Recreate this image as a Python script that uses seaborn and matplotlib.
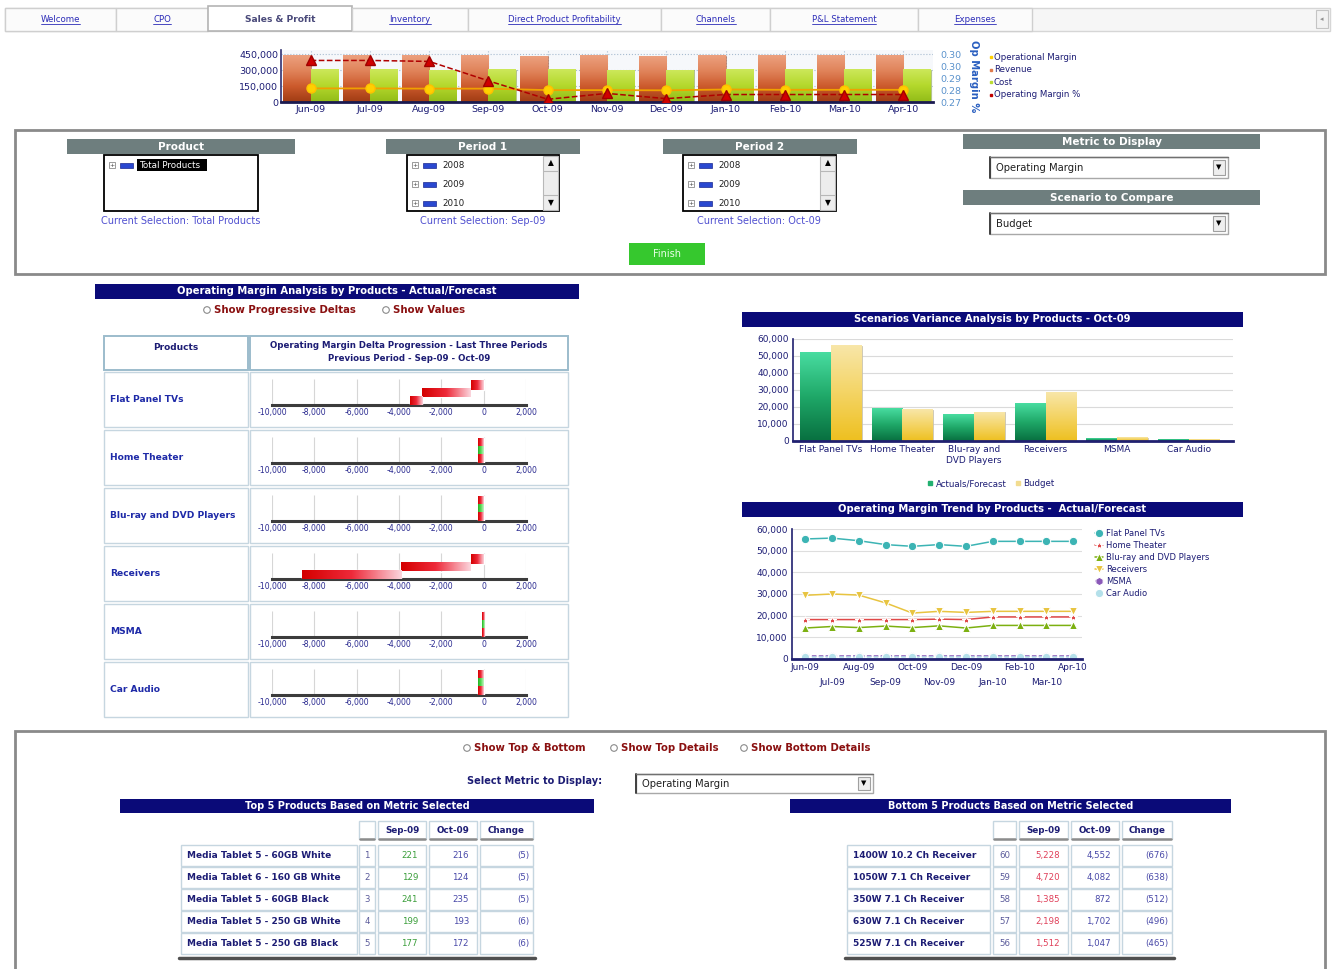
import numpy as np
import pandas as pd
import matplotlib
matplotlib.use("Agg")
import matplotlib.pyplot as plt
import seaborn as sns
from matplotlib.patches import Rectangle, Circle
from matplotlib.colors import LinearSegmentedColormap
from matplotlib.lines import Line2D

W, H = 1335, 969

# ---------------- data ----------------
tab_names = ["Welcome", "CPO", "Sales & Profit", "Inventory", "Direct Product Profitability",
             "Channels", "P&L Statement", "Expenses"]

months = ["Jun-09", "Jul-09", "Aug-09", "Sep-09", "Oct-09", "Nov-09",
          "Dec-09", "Jan-10", "Feb-10", "Mar-10", "Apr-10"]
revenue = [435000, 435000, 437000, 435000, 433000, 435000, 430000, 435000, 437000, 437000, 437000]
cost = [305000, 305000, 300000, 305000, 305000, 300000, 300000, 310000, 305000, 310000, 305000]
op_margin = [128000, 128000, 126000, 126000, 112000, 112000, 110000, 118000, 115000, 115000, 115000]
op_margin_pct = [0.2961, 0.2961, 0.2955, 0.2833, 0.2717, 0.2754, 0.2721, 0.2747, 0.2747, 0.2747, 0.2747]
pct_ticks = [0.27, 0.2775, 0.285, 0.2925, 0.30]
pct_tick_labels = ["0.27", "0.28", "0.29", "0.30", "0.30"]
top_legend = ["Operational Margin", "Revenue", "Cost", "Operating Margin %"]

products = ["Flat Panel TVs", "Home Theater", "Blu-ray and DVD Players", "Receivers", "MSMA", "Car Audio"]
product_ticks = ["Flat Panel TVs", "Home Theater", "Blu-ray and\nDVD Players", "Receivers", "MSMA", "Car Audio"]

# progressive deltas (previous period, Sep-09, Oct-09)
delta_flat_panel = [-600, -2300, -600]
delta_home_theater = [-250, 250, -250]
delta_bluray = [-250, 250, -250]
delta_receivers = [-600, -3300, -4700]
delta_msma = [-100, 100, -100]
delta_car_audio = [-250, 250, -250]
delta_ticks = [-10000, -8000, -6000, -4000, -2000, 0, 2000]

scenario_actual = [52000, 18900, 15400, 22000, 1400, 900]
scenario_budget = [56000, 18400, 16900, 28700, 2000, 700]

trend_flat_panel = [55400, 55800, 54600, 52800, 52000, 52800, 52000, 54300, 54300, 54300, 54300]
trend_home_theater = [18200, 18200, 18200, 18200, 18200, 18400, 18200, 19400, 19400, 19400, 19400]
trend_bluray = [14300, 15000, 14500, 15200, 14500, 15300, 14300, 15500, 15500, 15500, 15500]
trend_receivers = [29400, 30000, 29500, 25900, 21200, 22000, 21500, 22000, 22000, 22000, 22000]
trend_msma = [1200, 1200, 1200, 1200, 1200, 1200, 1200, 1200, 1200, 1200, 1200]
trend_car_audio = [900, 900, 900, 900, 900, 900, 900, 900, 900, 900, 900]

top5_names = ["Media Tablet 5 - 60GB White", "Media Tablet 6 - 160 GB White", "Media Tablet 5 - 60GB Black",
              "Media Tablet 5 - 250 GB White", "Media Tablet 5 - 250 GB Black"]
top5_rank = [1, 2, 3, 4, 5]
top5_sep = [221, 129, 241, 199, 177]
top5_oct = [216, 124, 235, 193, 172]
top5_change = [-5, -5, -5, -6, -6]

bottom5_names = ["1400W 10.2 Ch Receiver", "1050W 7.1 Ch Receiver", "350W 7.1 Ch Receiver",
                 "630W 7.1 Ch Receiver", "525W 7.1 Ch Receiver"]
bottom5_rank = [60, 59, 58, 57, 56]
bottom5_sep = [5228, 4720, 1385, 2198, 1512]
bottom5_oct = [4552, 4082, 872, 1702, 1047]
bottom5_change = [-676, -638, -512, -496, -465]

# ---------------- style ----------------
sns.set_theme(style="white")
plt.rcParams["font.family"] = ["DejaVu Sans"]

NAVY = "#0a0a78"
TXT = "#1c1c74"
GRAY_HDR = "#6e7e7e"
DARKRED = "#8a1010"
LINK = "#2c2cb8"

fig = plt.figure(figsize=(W / 100, H / 100), dpi=100)
bg = fig.add_axes([0, 0, 1, 1])
bg.set_xlim(0, W)
bg.set_ylim(H, 0)
bg.axis("off")


def axes_at(x, y, w, h):
    return fig.add_axes([x / W, 1 - (y + h) / H, w / W, h / H])


def box(x, y, w, h, fc="white", ec="none", lw=1, z=1):
    bg.add_patch(Rectangle((x, y), w, h, facecolor=fc, edgecolor=ec, linewidth=lw, zorder=z))


def label(x, y, s, size=7, color=TXT, ha="left", va="center", weight="normal", **kw):
    return bg.text(x, y, s, fontsize=size, color=color, ha=ha, va=va, fontweight=weight, zorder=6, **kw)


def shade(ax, patch, colors, vertical=True):
    x0, y0 = patch.get_x(), patch.get_y()
    w, h = patch.get_width(), patch.get_height()
    ramp = np.linspace(0, 1, 64)
    ramp = ramp.reshape(-1, 1) if vertical else ramp.reshape(1, -1)
    cmap = LinearSegmentedColormap.from_list("ramp", colors)
    ax.imshow(ramp, cmap=cmap, extent=(x0, x0 + w, y0, y0 + h), origin="lower",
              aspect="auto", interpolation="bilinear", zorder=patch.get_zorder())
    patch.set_facecolor("none")


def navy_bar(x, y, w, h, s, size=7.2):
    box(x, y, w, h, fc=NAVY)
    label(x + w / 2, y + h / 2, s, size=size, color="white", ha="center", weight="bold")


def gray_header(x, y, w, h, s):
    box(x, y, w, h, fc=GRAY_HDR)
    label(x + w / 2, y + h / 2, s, size=7.5, color="white", ha="center", weight="bold")


def radio(x, y, s):
    bg.add_patch(Circle((x, y), 3.3, facecolor="white", edgecolor="#8a8a8a", linewidth=0.8, zorder=5))
    label(x + 7, y, s, size=7.3, color=DARKRED, weight="bold")


def dropdown(x, y, w, h, s):
    box(x, y, w, h, fc="white", ec="#a8a8a8", lw=1)
    bg.plot([x, x], [y, y + h], color="#404040", lw=1.4, zorder=3)
    bg.plot([x, x + w], [y, y], color="#707070", lw=1.0, zorder=3)
    box(x + w - 15, y + 3, 12, h - 6, fc="#eeeeee", ec="#a0a0a0", lw=0.8, z=3)
    label(x + w - 9, y + h / 2, "▼", size=5, color="black", ha="center")
    label(x + 6, y + h / 2 + 0.5, s, size=7.2, color="#202020")


def tree_item(x, y, s, highlight=False):
    box(x - 3, y - 3, 6, 6, fc="white", ec="#8a8a8a", lw=0.6, z=3)
    label(x, y, "+", size=4.5, color="#404040", ha="center")
    box(x + 8, y - 2.5, 13, 5, fc="#2a48d0", ec="#1a2890", lw=0.5, z=3)
    if highlight:
        box(x + 25, y - 6, 70, 12, fc="black", z=3)
        label(x + 27, y, s, size=6.3, color="white")
    else:
        label(x + 27, y, s, size=6.3, color="#202020")


def listbox(x, y, w, h, items, scroll=True, highlight=False):
    box(x, y, w, h, fc="white", ec="black", lw=1.3, z=2)
    for k, s in enumerate(items):
        tree_item(x + 8, y + 10 + 19 * k, s, highlight=highlight)
    if scroll:
        sx = x + w - 16
        box(sx, y + 1, 15, h - 2, fc="#ededed", ec="#b8b8b8", lw=0.8, z=3)
        bg.plot([sx, sx + 15], [y + 16, y + 16], color="#b8b8b8", lw=0.8, zorder=4)
        bg.plot([sx, sx + 15], [y + h - 16, y + h - 16], color="#b8b8b8", lw=0.8, zorder=4)
        label(sx + 7.5, y + 8, "▲", size=5.5, color="black", ha="center")
        label(sx + 7.5, y + h - 8, "▼", size=5.5, color="black", ha="center")


# ---------------- tabs ----------------
tab_edges = [5, 116, 208, 352, 468, 661, 770, 918, 1032]
box(5, 8, 1325, 23, fc="#f6f6f6", ec="#d6d6d6")
tab_texts = []
for k, name in enumerate(tab_names):
    x0, x1 = tab_edges[k], tab_edges[k + 1]
    if name == "Sales & Profit":
        box(x0, 6, x1 - x0, 25, fc="white", ec="#b4b4b4", lw=1.2, z=2)
        label((x0 + x1) / 2, 19, name, size=6.6, color="#4a4a7a", ha="center", weight="bold")
    else:
        box(x0, 8, x1 - x0, 23, fc="#fbfbfb", ec="#cfcfcf", lw=1, z=2)
        tab_texts.append(label((x0 + x1) / 2, 19.5, name, size=6.2, color=LINK, ha="center"))
box(1316, 10, 12, 18, fc="#f2f2f2", ec="#c4c4c4", lw=0.8, z=2)
label(1322, 19, "◂", size=5, color="#909090", ha="center")

# ---------------- top chart ----------------
ax_top = axes_at(281, 50, 652, 52)
df_top = pd.DataFrame({"month": months * 2, "value": revenue + cost,
                       "series": ["Revenue"] * len(months) + ["Cost"] * len(months)})
sns.barplot(data=df_top, x="month", y="value", hue="series", palette=["#e07a4c", "#bcdc34"],
            width=0.92, saturation=1, legend=False, ax=ax_top)
bars = list(ax_top.patches)
for p in bars[:len(months)]:
    shade(ax_top, p, ["#a03c14", "#cc5a2c", "#e0835a", "#eca07e"])
    p.set_edgecolor("#b86a4a")
    p.set_linewidth(0.5)
for p in bars[len(months):]:
    shade(ax_top, p, ["#92bc18", "#b4d82c", "#cce85a"])
    p.set_edgecolor("#98b058")
    p.set_linewidth(0.5)
xpos = np.arange(len(months))
ax_top.plot(xpos, op_margin, color="#f0a000", lw=1.3, marker="o", ms=6.5,
            mfc="#ffd000", mec="#ffc000", zorder=5)
ax_top.set_xlim(-0.5, len(months) - 0.5)
ax_top.set_ylim(0, 490000)
ax_top.set_facecolor("#f6f8fb")
ax_top.grid(True, ls=":", color="#a8bcd0", lw=0.8)
ax_top.set_axisbelow(True)
ax_top.set_yticks([0, 150000, 300000, 450000])
ax_top.set_yticklabels([f"{v:,}" for v in [0, 150000, 300000, 450000]])
ax_top.set_xlabel("")
ax_top.set_ylabel("")
ax_top.tick_params(length=0, labelsize=6.8, colors=TXT, pad=2)
for s in ["top", "right"]:
    ax_top.spines[s].set_visible(False)
ax_top.spines["left"].set_color("#303070")
ax_top.spines["left"].set_linewidth(1.2)
ax_top.spines["bottom"].set_color("#1a1a50")
ax_top.spines["bottom"].set_linewidth(2)

ax_pct = ax_top.twinx()
ax_pct.plot(xpos, op_margin_pct, color="#b00000", lw=1.1, ls="--", marker="^", ms=6.5,
            mfc="#d00000", mec="#a00000", zorder=6)
ax_pct.set_ylim(0.27, 0.27 + 0.03 * 490 / 450)
ax_pct.set_yticks(pct_ticks)
ax_pct.set_yticklabels(pct_tick_labels)
ax_pct.tick_params(length=0, labelsize=6.8, colors="#5a92cc", pad=5)
for s in ax_pct.spines.values():
    s.set_visible(False)
ax_pct.set_ylabel("Op Margin %", rotation=270, color="#2a5fc0", fontsize=7.2,
                  fontweight="bold", labelpad=13)

legend_colors = ["#ffd000", "#e07a4c", "#bcdc34", "#c00000"]
for k, (s, c) in enumerate(zip(top_legend, legend_colors)):
    yy = 57 + 12.5 * k
    bg.plot([991], [yy], marker="s", ms=2, color=c, zorder=6)
    label(994, yy, s, size=6.2, color=TXT)

# ---------------- selection panel ----------------
box(15, 130, 1310, 144, fc="white", ec="#8a8a8a", lw=2)
gray_header(67, 139, 228, 15, "Product")
listbox(104, 155, 154, 56, ["Total Products"], scroll=False, highlight=True)
label(181, 221, "Current Selection: Total Products", size=7, color="#5050d0", ha="center")

gray_header(386, 139, 194, 15, "Period 1")
listbox(407, 155, 152, 56, ["2008", "2009", "2010"])
label(483, 221, "Current Selection: Sep-09", size=7, color="#5050d0", ha="center")

gray_header(663, 139, 194, 15, "Period 2")
listbox(683, 155, 153, 56, ["2008", "2009", "2010"])
label(759, 221, "Current Selection: Oct-09", size=7, color="#5050d0", ha="center")

box(629, 243, 76, 22, fc="#36c82e")
label(667, 254, "Finish", size=7, color="#e8ffe8", ha="center")

gray_header(963, 134, 297, 15, "Metric to Display")
dropdown(990, 157, 238, 21, "Operating Margin")
gray_header(963, 190, 297, 15, "Scenario to Compare")
dropdown(990, 213, 238, 21, "Budget")

# ---------------- delta progression table ----------------
navy_bar(95, 284, 484, 15, "Operating Margin Analysis by Products - Actual/Forecast")
radio(207, 310, "Show Progressive Deltas")
radio(386, 310, "Show Values")

CELL_EC = "#c6d6e0"
box(104, 336, 144, 34, fc="white", ec="#9cbccc", lw=1.4)
box(250, 336, 318, 34, fc="white", ec="#9cbccc", lw=1.4)
label(176, 347, "Products", size=6.5, color=TXT, ha="center", weight="bold")
label(409, 346, "Operating Margin Delta Progression - Last Three Periods", size=6.2,
      color=TXT, ha="center", weight="bold")
label(409, 358.5, "Previous Period - Sep-09 - Oct-09", size=6.2, color=TXT, ha="center", weight="bold")

delta_rows = [delta_flat_panel, delta_home_theater, delta_bluray,
              delta_receivers, delta_msma, delta_car_audio]
bar_y = [2.0, 1.2, 0.45]
bar_h = [1.0, 0.9, 0.9]
for i, (name, deltas) in enumerate(zip(products, delta_rows)):
    top = 372 + 58 * i
    box(104, top, 144, 55, fc="white", ec=CELL_EC, lw=1)
    box(250, top, 318, 55, fc="white", ec=CELL_EC, lw=1)
    label(110, top + 27, name, size=6.6, color="#1e2aa8", weight="bold")

    ax = axes_at(272, top + 2, 254, 31)
    ax.set_facecolor("none")
    ends = np.cumsum(deltas)
    starts = ends - np.array(deltas)
    lefts = np.minimum(starts, ends)
    widths = np.abs(deltas)
    bars = ax.barh(bar_y, widths, left=lefts, height=bar_h, zorder=3)
    for p, d in zip(bars, deltas):
        if d < 0:
            shade(ax, p, ["#d40000", "#ee2a3a", "#fbd4dc"], vertical=False)
        else:
            shade(ax, p, ["#20b020", "#58dc58", "#c8f4c8"], vertical=False)
    ax.vlines(delta_ticks, 0, 2.6, color="#d6d6d6", lw=0.8, zorder=1)
    ax.set_xlim(-10000, 2000)
    ax.set_ylim(0, 3.1)
    ax.set_xticks(delta_ticks)
    ax.set_xticklabels([f"{v:,}" for v in delta_ticks])
    ax.set_yticks([])
    ax.tick_params(axis="x", length=0, labelsize=5.6, colors="#2a2a90", pad=2)
    for s in ["top", "right", "left"]:
        ax.spines[s].set_visible(False)
    ax.spines["bottom"].set_color("#3c3c3c")
    ax.spines["bottom"].set_linewidth(2.2)

# ---------------- scenario variance chart ----------------
navy_bar(742, 312, 501, 15, "Scenarios Variance Analysis by Products - Oct-09")
ax_sc = axes_at(793, 339, 440, 102)
df_sc = pd.DataFrame({"product": product_ticks * 2, "value": scenario_actual + scenario_budget,
                      "scenario": ["Actuals/Forecast"] * 6 + ["Budget"] * 6})
sns.barplot(data=df_sc, x="product", y="value", hue="scenario", palette=["#22b070", "#f2cc50"],
            width=0.86, saturation=1, legend=False, ax=ax_sc)
sc_bars = list(ax_sc.patches)
for p in sc_bars[:6]:
    shade(ax_sc, p, ["#087040", "#1fa868", "#48dca0"])
    p.set_edgecolor("#b8d8c8")
    p.set_linewidth(0.6)
for p in sc_bars[6:]:
    shade(ax_sc, p, ["#eec020", "#f4d464", "#f8e6a8"])
    p.set_edgecolor("#c8c0a8")
    p.set_linewidth(0.6)
ax_sc.set_xlim(-0.53, 5.62)
ax_sc.set_ylim(0, 60000)
ax_sc.set_yticks(range(0, 60001, 10000))
ax_sc.set_yticklabels([f"{v:,}" for v in range(0, 60001, 10000)])
ax_sc.yaxis.grid(True, color="#dadada", lw=0.8)
ax_sc.set_axisbelow(True)
ax_sc.set_xlabel("")
ax_sc.set_ylabel("")
ax_sc.tick_params(length=0, labelsize=6.5, colors=TXT, pad=3)
for s in ["top", "right"]:
    ax_sc.spines[s].set_visible(False)
ax_sc.spines["left"].set_color("#202070")
ax_sc.spines["left"].set_linewidth(1.2)
ax_sc.spines["bottom"].set_color("#202070")
ax_sc.spines["bottom"].set_linewidth(2)
sc_handles = [Line2D([], [], ls="", marker="s", ms=3.5, color="#22b070"),
              Line2D([], [], ls="", marker="s", ms=3.5, color="#f2dc90")]
ax_sc.legend(sc_handles, ["Actuals/Forecast", "Budget"], loc="center", bbox_to_anchor=(0.45, -0.42),
             ncol=2, frameon=False, fontsize=6.2, handlelength=0.6, handletextpad=0.3,
             columnspacing=1.0, labelcolor=TXT)

# ---------------- trend chart ----------------
navy_bar(742, 502, 501, 15, "Operating Margin Trend by Products -  Actual/Forecast")
ax_tr = axes_at(792, 529, 290, 130)
trend_series = [trend_flat_panel, trend_home_theater, trend_bluray,
                trend_receivers, trend_msma, trend_car_audio]
df_tr = pd.DataFrame({
    "month": np.tile(np.arange(len(months)), len(products)),
    "value": np.concatenate(trend_series),
    "product": np.repeat(products, len(months)),
})
sns.lineplot(data=df_tr, x="month", y="value", hue="product", style="product",
             palette=["#3cb4b4", "#e04848", "#7cb010", "#e8c440", "#8a58b8", "#b4e0ea"],
             markers=["o", "*", "^", "v", "h", "o"],
             dashes=["", "", "", "", (3, 1.5), (3, 1.5)],
             markersize=6, linewidth=1.1, ax=ax_tr)
ax_tr.set_xlim(-0.49, 10.33)
ax_tr.set_ylim(0, 60000)
# alternate month labels on two rows
ax_tr.set_xticks(range(0, len(months), 2))
ax_tr.set_xticklabels(months[0::2])
ax_tr.set_xticks(range(1, len(months), 2), minor=True)
ax_tr.set_xticklabels(months[1::2], minor=True)
ax_tr.set_yticks(range(0, 60001, 10000))
ax_tr.set_yticklabels([f"{v:,}" for v in range(0, 60001, 10000)])
ax_tr.yaxis.grid(True, color="#dedede", lw=0.8)
ax_tr.set_axisbelow(True)
ax_tr.set_xlabel("")
ax_tr.set_ylabel("")
ax_tr.tick_params(length=0, labelsize=6.5, colors=TXT, pad=3)
ax_tr.tick_params(axis="x", which="minor", length=0, labelsize=6.5, colors=TXT, pad=14)
for s in ["top", "right"]:
    ax_tr.spines[s].set_visible(False)
ax_tr.spines["left"].set_color("#202070")
ax_tr.spines["left"].set_linewidth(1.2)
ax_tr.spines["bottom"].set_color("#202070")
ax_tr.spines["bottom"].set_linewidth(2)
handles, labels = ax_tr.get_legend_handles_labels()
ax_tr.legend(handles, labels, loc="upper left", bbox_to_anchor=(1.03, 1.03), frameon=False,
             fontsize=6, labelspacing=0.35, handlelength=1.0, handletextpad=0.35,
             borderpad=0, labelcolor=TXT)

# ---------------- bottom panel ----------------
box(15, 731, 1310, 240, fc="white", ec="#8a8a8a", lw=2)
radio(467, 748, "Show Top & Bottom")
radio(614, 748, "Show Top Details")
radio(744, 748, "Show Bottom Details")
label(467, 781, "Select Metric to Display:", size=7, color=TXT, weight="bold")
dropdown(636, 774, 237, 19, "Operating Margin")
navy_bar(120, 799, 474, 14, "Top 5 Products Based on Metric Selected", size=7)
navy_bar(790, 799, 441, 14, "Bottom 5 Products Based on Metric Selected", size=7)


def fmt_change(v):
    return f"({abs(v):,})" if v < 0 else f"{v:,}"


def product_table(cols, names, ranks, sep, octo, chg, sep_color):
    # header cells
    for (x0, x1), s in zip(cols[1:], ["", "Sep-09", "Oct-09", "Change"]):
        box(x0, 821, x1 - x0, 18, fc="white", ec=CELL_EC, lw=1)
        bg.plot([x0 + 1, x1 - 1], [839, 839], color="#8c8c8c", lw=1.8, zorder=4)
        if s:
            label((x0 + x1) / 2, 830.5, s, size=6.3, color=TXT, ha="center", weight="bold")
    for r in range(len(names)):
        y0 = 845 + 22 * r
        yc = y0 + 10.5
        for x0, x1 in cols:
            box(x0, y0, x1 - x0, 21, fc="white", ec=CELL_EC, lw=1)
        label(cols[0][0] + 6, yc, names[r], size=6.5, color=TXT, weight="bold")
        label((cols[1][0] + cols[1][1]) / 2, yc, str(ranks[r]), size=6.2, color="#5a5a9a", ha="center")
        label(cols[2][1] - 8, yc, f"{sep[r]:,}", size=6.2, color=sep_color, ha="right")
        label(cols[3][1] - 8, yc, f"{octo[r]:,}", size=6.2, color="#4848a8", ha="right")
        label(cols[4][1] - 4, yc, fmt_change(chg[r]), size=6.2, color="#4848a8", ha="right")
    bg.plot([cols[0][0] - 2, cols[4][1] + 2], [958, 958], color="#505050", lw=2.5, zorder=4)


product_table([(181, 357), (359, 375), (378, 426), (429, 477), (480, 533)],
              top5_names, top5_rank, top5_sep, top5_oct, top5_change, "#3a9e3a")
product_table([(847, 990), (993, 1016), (1019, 1068), (1071, 1119), (1122, 1172)],
              bottom5_names, bottom5_rank, bottom5_sep, bottom5_oct, bottom5_change, "#e0405a")

# underline tab links
fig.canvas.draw()
rend = fig.canvas.get_renderer()
inv = bg.transData.inverted()
for t in tab_texts:
    bb = t.get_window_extent(rend)
    (x0, ya), (x1, yb) = inv.transform([(bb.x0, bb.y0), (bb.x1, bb.y1)])
    yy = max(ya, yb) - 0.5
    bg.plot([x0, x1], [yy, yy], color=LINK, lw=0.6, zorder=6)

fig.savefig("out.png", dpi=100)
